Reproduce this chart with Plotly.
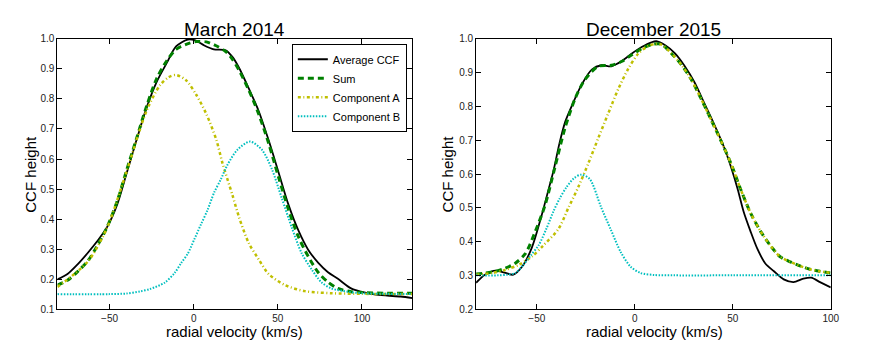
import plotly.graph_objects as go

# March 2014 panel (radial velocity km/s -> CCF height)
mar_avg_x = [-81, -75, -69, -63, -57.5, -51.5, -45.5, -40, -34, -28, -22, -16, -10.5, -3.5, 1, 6.3, 12, 19, 23, 27,
             32.7, 38.6, 44.5, 50.4, 56.3, 62.2, 68, 73.9, 79.8, 85.7, 93.5, 99.4, 107.3, 115, 123, 130]
mar_avg_y = [0.199, 0.217, 0.249, 0.287, 0.325, 0.373, 0.448, 0.55, 0.663, 0.771, 0.857, 0.92, 0.975, 0.998, 0.995,
             0.978, 0.965, 0.962, 0.94, 0.903, 0.835, 0.76, 0.663, 0.556, 0.448, 0.362, 0.298, 0.255, 0.223, 0.201,
             0.169, 0.158, 0.149, 0.145, 0.142, 0.137]

mar_sum_x = [-81, -75, -69, -63, -57.5, -51.5, -45.5, -40, -34, -28, -22, -16, -10.5, -4.5, 1.5, 7.5, 13, 19, 23, 27,
             32.7, 38.6, 44.5, 50.4, 56.3, 62.2, 68, 73.9, 79.8, 85.7, 93.5, 101, 115, 130]
mar_sum_y = [0.18, 0.196, 0.225, 0.26, 0.309, 0.373, 0.459, 0.56, 0.668, 0.776, 0.868, 0.927, 0.965, 0.982, 0.991,
             0.99, 0.978, 0.958, 0.932, 0.895, 0.83, 0.75, 0.653, 0.54, 0.432, 0.341, 0.276, 0.223, 0.19, 0.169,
             0.158, 0.155, 0.153, 0.153]

mar_a_x = [-81, -63, -51.5, -40, -28, -20, -15, -10.5, -4.5, 1.5, 7.5, 13.5, 17, 23, 27, 32.7, 38.6, 44.5, 54.3, 66,
           82, 100, 130]
mar_a_y = [0.174, 0.258, 0.371, 0.556, 0.761, 0.846, 0.872, 0.88, 0.862, 0.814, 0.75, 0.663, 0.588, 0.48, 0.405,
           0.32, 0.266, 0.217, 0.18, 0.16, 0.153, 0.151, 0.15]

mar_b_x = [-81, -50, -40, -32, -26, -17.3, -11.4, -7.5, -3.5, 0.4, 4.3, 8.2, 12.2, 16.1, 20, 26, 33.5, 40.5, 46.4,
           52.3, 58.2, 64.1, 70, 75.8, 81.8, 91.6, 100, 130]
mar_b_y = [0.15, 0.15, 0.152, 0.159, 0.167, 0.188, 0.22, 0.253, 0.285, 0.333, 0.382, 0.43, 0.489, 0.532, 0.58, 0.631,
           0.658, 0.631, 0.567, 0.47, 0.373, 0.287, 0.233, 0.19, 0.169, 0.158, 0.153, 0.15]

# December 2015 panel
dec_avg_x = [-81, -76.5, -71, -66, -62, -57.5, -52.5, -47.5, -44, -41.5, -38.5, -35.5, -32, -27, -22, -17, -12, -7,
             -1.5, 3.5, 8.5, 11, 15.5, 20.5, 25.5, 30.5, 35.5, 40.5, 45.5, 49, 52.5, 55.5, 59, 62.5, 66.5, 71, 76,
             81, 86, 90, 94.5, 100]
dec_avg_y = [0.278, 0.302, 0.314, 0.307, 0.302, 0.326, 0.383, 0.479, 0.555, 0.61, 0.69, 0.755, 0.804, 0.866, 0.909,
             0.922, 0.919, 0.933, 0.957, 0.976, 0.99, 0.993, 0.981, 0.957, 0.919, 0.871, 0.809, 0.747, 0.68, 0.622,
             0.555, 0.489, 0.431, 0.379, 0.336, 0.312, 0.288, 0.28, 0.29, 0.293, 0.28, 0.264]

dec_sum_x = [-81, -76.3, -71.2, -66.1, -61, -55.9, -50.8, -45.8, -40.7, -35.6, -30.5, -25.4, -18.6, -11.9, -6.8,
             -1.7, 3.4, 9.3, 13.6, 18.7, 23.7, 28.8, 33.8, 38.9, 43.9, 49, 54, 59.1, 64.1, 69.2, 74.2, 79.3, 84.3,
             89.4, 94.4, 100]
dec_sum_y = [0.304, 0.307, 0.312, 0.321, 0.336, 0.364, 0.43, 0.508, 0.622, 0.737, 0.823, 0.88, 0.919, 0.922, 0.933,
             0.952, 0.971, 0.984, 0.984, 0.957, 0.924, 0.88, 0.823, 0.761, 0.699, 0.632, 0.555, 0.484, 0.431, 0.388,
             0.355, 0.34, 0.328, 0.318, 0.312, 0.307]

dec_a_x = [-81, -72.9, -66.1, -59.3, -52.5, -46.8, -39, -33.9, -28.8, -23.7, -18.6, -13.6, -8.5, -3.4, 1.7, 6.8,
           10.5, 13.6, 18.7, 23.7, 28.8, 33.8, 38.9, 43.9, 49, 54, 59.1, 64.1, 69.2, 74.2, 79.3, 84.3, 89.4, 94.4, 100]
dec_a_y = [0.302, 0.307, 0.316, 0.331, 0.356, 0.388, 0.437, 0.5, 0.562, 0.632, 0.707, 0.779, 0.851, 0.911, 0.956,
           0.979, 0.985, 0.983, 0.957, 0.924, 0.88, 0.823, 0.761, 0.699, 0.632, 0.555, 0.484, 0.431, 0.388, 0.355,
           0.34, 0.328, 0.318, 0.312, 0.307]

dec_b_x = [-81, -70, -65, -61, -57, -53, -49, -45, -41.5, -38.4, -35, -31, -27.4, -23, -17.3, -12.3, -7.2, -2.2, 2.9,
           10, 20, 50, 100]
dec_b_y = [0.3, 0.3, 0.302, 0.307, 0.33, 0.36, 0.39, 0.44, 0.49, 0.527, 0.56, 0.588, 0.598, 0.585, 0.503, 0.436,
           0.369, 0.326, 0.307, 0.301, 0.3, 0.3, 0.3]

names = ["Average CCF", "Sum", "Component A", "Component B"]
colors = ["black", "#008000", "#bfbf00", "#00bfbf"]
dashes = ["solid", "6px,4px", "3px,2.5px,1px,2.5px", "1.5px,1.5px"]
widths = [1.8, 3, 2.5, 2]

mar_ticks_y = [0.1, 0.2, 0.3, 0.4, 0.5, 0.6, 0.7, 0.8, 0.9, 1.0]
dec_ticks_y = [0.2, 0.3, 0.4, 0.5, 0.6, 0.7, 0.8, 0.9, 1.0]
ticks_x = [-50, 0, 50, 100]

FONT = "Liberation Sans, Arial, sans-serif"
W, H = 886, 350


def fx(px):
    return px / W


def fy(py):
    return 1 - py / H


fig = go.Figure()
panels = [
    ("x", "y", [(mar_avg_x, mar_avg_y), (mar_sum_x, mar_sum_y), (mar_a_x, mar_a_y), (mar_b_x, mar_b_y)], True),
    ("x2", "y2", [(dec_avg_x, dec_avg_y), (dec_sum_x, dec_sum_y), (dec_a_x, dec_a_y), (dec_b_x, dec_b_y)], False),
]
for xa, ya, series, legend in panels:
    for i, (sx, sy) in enumerate(series):
        fig.add_trace(go.Scatter(
            x=sx, y=sy, name=names[i], mode="lines", xaxis=xa, yaxis=ya,
            line=dict(color=colors[i], dash=dashes[i], width=widths[i], shape="spline", smoothing=0.8),
            showlegend=legend, hoverinfo="skip"))

axis_common = dict(showgrid=False, zeroline=False, showline=True, linecolor="black", linewidth=1,
                   mirror="ticks", ticks="inside", ticklen=5, tickcolor="black", tickwidth=1,
                   tickfont=dict(family=FONT, size=10, color="#222"))

fig.update_layout(
    width=W, height=H,
    margin=dict(l=0, r=0, t=0, b=0),
    paper_bgcolor="white", plot_bgcolor="white",
    font=dict(family=FONT, color="black"),
    xaxis=dict(domain=[fx(58), fx(416.7)], range=[-81, 130], tickvals=ticks_x, anchor="y", **axis_common),
    yaxis=dict(domain=[fy(314), fy(35)], range=[0.1, 1.0], tickvals=mar_ticks_y, tickformat=".1f",
               anchor="x", **axis_common),
    xaxis2=dict(domain=[fx(481), fx(839.3)], range=[-81, 100], tickvals=ticks_x, anchor="y2", **axis_common),
    yaxis2=dict(domain=[fy(314), fy(35)], range=[0.2, 1.0], tickvals=dec_ticks_y, tickformat=".1f",
                anchor="x2", **axis_common),
    legend=dict(x=fx(411), y=fy(40), xanchor="right", yanchor="top", bgcolor="white",
                bordercolor="black", borderwidth=1, font=dict(family=FONT, size=11), itemwidth=30,
                tracegroupgap=0),
)

labels = [
    dict(text="March 2014", x=fx(237), y=fy(25), size=19, angle=0),
    dict(text="December 2015", x=fx(660), y=fy(25), size=19, angle=0),
    dict(text="radial velocity (km/s)", x=fx(237), y=fy(337), size=15, angle=0),
    dict(text="radial velocity (km/s)", x=fx(661), y=fy(337), size=15, angle=0),
    dict(text="CCF height", x=fx(30), y=fy(174.5), size=15, angle=-90),
    dict(text="CCF height", x=fx(452), y=fy(174.5), size=15, angle=-90),
]
for lb in labels:
    fig.add_annotation(text=lb["text"], x=lb["x"], y=lb["y"], xref="paper", yref="paper", showarrow=False,
                       xanchor="center", yanchor="middle", textangle=lb["angle"],
                       font=dict(family=FONT, size=lb["size"], color="black"))

# drop the browser's default body margin so the figure sits at the page corner
fig.write_html("out.html", config={"displayModeBar": False},
               post_script="document.body.style.margin='0';")
